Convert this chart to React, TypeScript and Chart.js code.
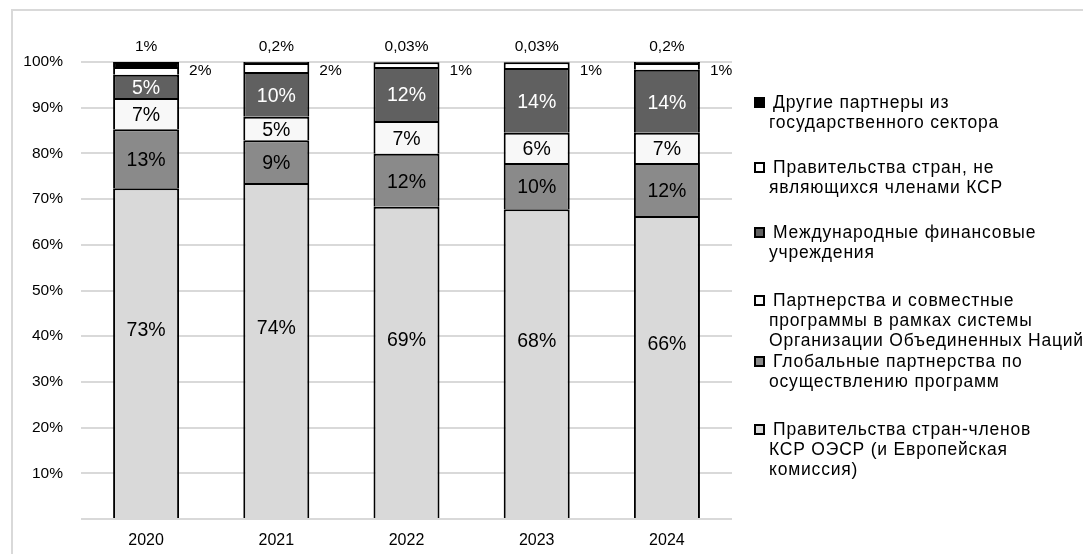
import React, { useEffect, useRef } from 'react';
import { Chart, registerables } from 'chart.js';

Chart.register(...registerables);

// ---- data ----
const years = ['2020', '2021', '2022', '2023', '2024'];

const oecdGovernments = [72.4, 73.5, 68.3, 67.8, 66.3];
const globalPartnerships = [12.9, 9.4, 11.6, 10.1, 11.6];
const unPartnerships = [6.8, 5.1, 7.2, 6.6, 6.6];
const financialInstitutions = [5.1, 9.8, 11.8, 14.2, 13.8];
const nonDacGovernments = [1.7, 2.0, 1.07, 1.27, 1.5];
const otherPublicPartners = [1.1, 0.2, 0.03, 0.03, 0.2];

const oecdLabels = ['73%', '74%', '69%', '68%', '66%'];
const globalLabels = ['13%', '9%', '12%', '10%', '12%'];
const unLabels = ['7%', '5%', '7%', '6%', '7%'];
const ifiLabels = ['5%', '10%', '12%', '14%', '14%'];
const nonDacLabels = ['2%', '2%', '1%', '1%', '1%'];
const otherLabels = ['1%', '0,2%', '0,03%', '0,03%', '0,2%'];

const yTicks = [0, 10, 20, 30, 40, 50, 60, 70, 80, 90, 100];

const seriesNames = [
  ['Правительства стран-членов', 'КСР ОЭСР (и Европейская', 'комиссия)'],
  ['Глобальные партнерства по', 'осуществлению программ'],
  ['Партнерства и совместные', 'программы в рамках системы', 'Организации Объединенных Наций'],
  ['Международные финансовые', 'учреждения'],
  ['Правительства стран, не', 'являющихся членами КСР'],
  ['Другие партнеры из', 'государственного сектора'],
];

const FONT = '"Liberation Sans", Arial, sans-serif';
const colors = ['#d9d9d9', '#8a8a8a', '#f8f8f8', '#606060', '#ffffff', '#000000'];
const seriesValues = [
  oecdGovernments,
  globalPartnerships,
  unPartnerships,
  financialInstitutions,
  nonDacGovernments,
  otherPublicPartners,
];
const seriesLabels = [oecdLabels, globalLabels, unLabels, ifiLabels, nonDacLabels, otherLabels];

// legend line-top positions (top of first line of each item), reversed order
const legendTops = [92, 157, 222, 290, 351, 419];

const labelPlugin = {
  id: 'segLabels',
  afterDatasetsDraw(chart: any) {
    const ctx = chart.ctx;
    const y100 = chart.scales.y.getPixelForValue(100);
    ctx.save();
    ctx.textBaseline = 'middle';
    chart.data.datasets.forEach((ds: any, di: number) => {
      const meta = chart.getDatasetMeta(di);
      meta.data.forEach((el: any, i: number) => {
        const txt = seriesLabels[di][i];
        if (!txt) return;
        if (di <= 3) {
          ctx.font = `19.5px ${FONT}`;
          ctx.fillStyle = di === 3 ? '#ffffff' : '#000000';
          ctx.textAlign = 'center';
          const shift = di === 0 ? -22 : 2;
          ctx.fillText(txt, el.x, (el.y + el.base) / 2 + shift);
        } else if (di === 4) {
          ctx.font = `15.5px ${FONT}`;
          ctx.fillStyle = '#000000';
          ctx.textAlign = 'left';
          ctx.fillText(txt, el.x + el.width / 2 + 10, y100 + 9);
        } else {
          ctx.font = `15.5px ${FONT}`;
          ctx.fillStyle = '#000000';
          ctx.textAlign = 'center';
          ctx.fillText(txt, el.x, y100 - 15);
        }
      });
    });
    ctx.restore();
  },
};

export default function App() {
  const ref = useRef<HTMLCanvasElement>(null);

  useEffect(() => {
    if (!ref.current) return;
    const chart = new Chart(ref.current, {
      type: 'bar',
      data: {
        labels: years,
        datasets: seriesValues.map((vals, i) => ({
          label: seriesNames[i].join(' '),
          data: vals,
          backgroundColor: colors[i],
          borderColor: '#000000',
          borderWidth: 2,
          borderSkipped: 'start',
          categoryPercentage: 1,
          barPercentage: 0.507,
        })),
      },
      options: {
        responsive: false,
        animation: false,
        devicePixelRatio: 1,
        layout: { padding: { top: 62, right: 351, bottom: 0, left: 0 } },
        plugins: { legend: { display: false }, tooltip: { enabled: false } },
        scales: {
          x: {
            stacked: true,
            grid: { display: false, drawTicks: false },
            border: { display: false },
            ticks: { color: '#000', font: { family: FONT, size: 16 }, padding: 12 },
            afterFit: (s: any) => {
              s.height = 35;
            },
          },
          y: {
            stacked: true,
            min: 0,
            max: 100,
            afterBuildTicks: (s: any) => {
              s.ticks = yTicks.map((v) => ({ value: v }));
            },
            grid: { color: '#d9d9d9', lineWidth: 2, drawTicks: false },
            border: { display: false },
            ticks: {
              color: '#000',
              font: { family: FONT, size: 15.5 },
              padding: 18,
              callback: (v: any) => (v === 0 ? '' : v + '%'),
            },
            afterFit: (s: any) => {
              s.width = 81;
            },
          },
        },
      },
      plugins: [labelPlugin],
    });
    return () => chart.destroy();
  }, []);

  const legendOrder = [5, 4, 3, 2, 1, 0];

  return (
    <div
      style={{
        position: 'absolute',
        left: 0,
        top: 0,
        width: 1083,
        height: 554,
        overflow: 'hidden',
        background: '#fff',
        fontFamily: FONT,
      }}
    >
      <div
        style={{
          position: 'absolute',
          left: 11,
          top: 9,
          width: 1200,
          height: 700,
          border: '2px solid #d9d9d9',
          boxSizing: 'border-box',
        }}
      />
      <canvas ref={ref} width={1083} height={554} style={{ position: 'absolute', left: 0, top: 0 }} />
      {legendOrder.map((si, k) => (
        <div key={si} style={{ position: 'absolute', left: 754, top: legendTops[k] }}>
          <div
            style={{
              position: 'absolute',
              left: 0,
              top: 5,
              width: 11,
              height: 11,
              boxSizing: 'border-box',
              border: '2px solid #000',
              background: colors[si],
            }}
          />
          <div
            style={{
              position: 'absolute',
              left: 15,
              top: 0,
              whiteSpace: 'nowrap',
              fontSize: 17.5,
              letterSpacing: '0.8px',
              lineHeight: '20px',
              color: '#000',
            }}
          >
            {seriesNames[si].map((ln, j) => (
              <div key={j} style={{ paddingLeft: j === 0 ? 4 : 0 }}>
                {ln}
              </div>
            ))}
          </div>
        </div>
      ))}
    </div>
  );
}
